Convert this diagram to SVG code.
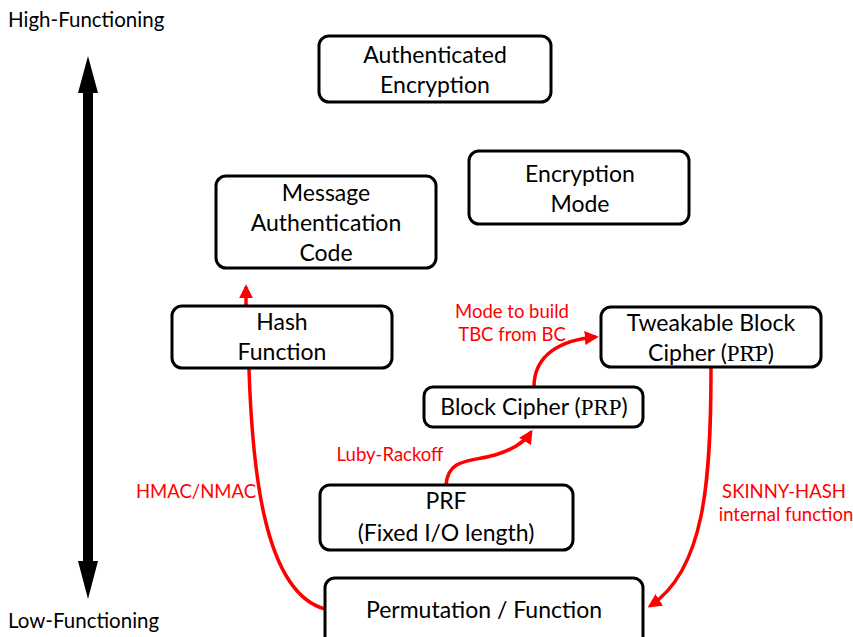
<svg xmlns="http://www.w3.org/2000/svg" width="853" height="637" viewBox="0 0 853 637">
<defs>
<style>
.box{fill:#fff;stroke:#000;stroke-width:3}
.t{font-family:Lato,"Liberation Sans",sans-serif;font-size:23px;fill:#000;text-anchor:middle}
.m{font-family:"Liberation Serif",serif}
.side{font-family:Lato,"Liberation Sans",sans-serif;font-size:20.5px;fill:#000}
.lbl{font-family:Lato,"Liberation Sans",sans-serif;font-size:18.5px;fill:#ff0000;text-anchor:middle}
.edge{fill:none;stroke:#ff0000;stroke-width:3.5}
</style>
<marker id="ah" viewBox="0 0 10 10" refX="8" refY="5" markerWidth="4" markerHeight="4" orient="auto" markerUnits="strokeWidth">
<path d="M0,0 L10,5 L0,10 Z" fill="#ff0000"/>
</marker>
</defs>
<rect width="853" height="637" fill="#fff"/>

<g id="axis">
<text class="side" x="8" y="27">High-Functioning</text>
<text class="side" x="8" y="628">Low-Functioning</text>
<polygon points="88,56 98,93 93,93 93,561 98,561 88,599 78,561 83,561 83,93 78,93" fill="#000"/>
</g>

<g id="connectors">
<path class="edge" d="M246,305 L246,287" marker-end="url(#ah)"/>
<path class="edge" d="M249,369 C252,460 262,592 325,609"/>
<path class="edge" d="M446,485 C448,458 470,462 495,455 C515,449 526,440 531,432" marker-end="url(#ah)"/>
<path class="edge" d="M534,387 C534,355 560,340 596,337" marker-end="url(#ah)"/>
<path class="edge" d="M711,368 C711,480 705,570 650,606" marker-end="url(#ah)"/>
<text class="lbl" x="512" y="318">Mode to build</text>
<text class="lbl" x="512" y="341">TBC from BC</text>
<text class="lbl" x="390" y="461">Luby-Rackoff</text>
<text class="lbl" x="196" y="498">HMAC/NMAC</text>
<text class="lbl" x="784" y="498">SKINNY-HASH</text>
<text class="lbl" x="786" y="521">internal function</text>
</g>

<g id="ae">
<rect class="box" x="319" y="36" width="232" height="66" rx="10"/>
<text class="t" x="435" y="63">Authenticated</text>
<text class="t" x="435" y="93">Encryption</text>
</g>
<g id="encmode">
<rect class="box" x="469" y="151" width="220" height="73" rx="10"/>
<text class="t" x="580" y="182">Encryption</text>
<text class="t" x="580" y="212">Mode</text>
</g>
<g id="mac">
<rect class="box" x="216" y="176" width="220" height="92" rx="10"/>
<text class="t" x="326" y="201">Message</text>
<text class="t" x="326" y="231">Authentication</text>
<text class="t" x="326" y="261">Code</text>
</g>
<g id="hash">
<rect class="box" x="172" y="306" width="220" height="62" rx="10"/>
<text class="t" x="282" y="330">Hash</text>
<text class="t" x="282" y="360">Function</text>
</g>
<g id="tbc">
<rect class="box" x="601" y="307" width="220" height="60" rx="10"/>
<text class="t" x="711" y="331">Tweakable Block</text>
<text class="t" x="711" y="361">Cipher (<tspan class="m">PRP</tspan>)</text>
<text class="m" x="0" y="0" font-size="10" text-anchor="middle" transform="translate(750,356) scale(6,1.4)">˜</text>
</g>
<g id="bc">
<rect class="box" x="424" y="387" width="219" height="40" rx="9"/>
<text class="t" x="534" y="415">Block Cipher (<tspan class="m">PRP</tspan>)</text>
</g>
<g id="prf">
<rect class="box" x="320" y="485" width="253" height="65" rx="10"/>
<text class="t" x="446" y="509">PRF</text>
<text class="t" x="446" y="541">(Fixed I/O length)</text>
</g>
<g id="perm">
<rect class="box" x="325" y="578" width="318" height="70" rx="10"/>
<text class="t" x="484" y="618">Permutation / Function</text>
</g>
</svg>
